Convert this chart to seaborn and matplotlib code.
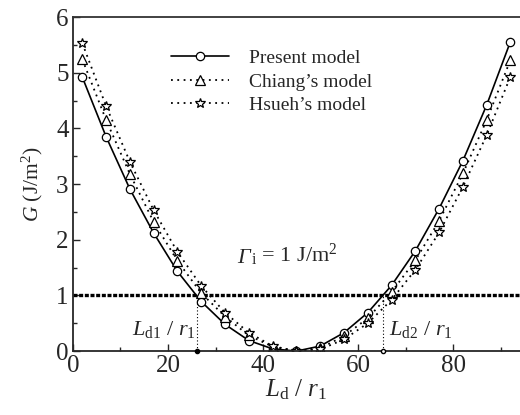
import matplotlib
matplotlib.use("Agg")
import matplotlib.pyplot as plt
import numpy as np
import pandas as pd
import seaborn as sns

# L_d / r_1 sample positions and G values (J/m^2)
ld_r1 = [2, 7, 12, 17, 22, 27, 32, 37, 42, 47, 52, 57, 62, 67, 72, 77, 82, 87, 92]
g_present = [4.92, 3.85, 2.91, 2.12, 1.43, 0.89, 0.48, 0.19, 0.04, 0.0,
             0.09, 0.33, 0.69, 1.18, 1.80, 2.56, 3.42, 4.42, 5.56]
g_chiang = [5.24, 4.15, 3.18, 2.32, 1.62, 1.04, 0.62, 0.28, 0.08, 0.0,
            0.05, 0.27, 0.59, 1.06, 1.63, 2.34, 3.19, 4.15, 5.23]
g_hsueh = [5.53, 4.40, 3.40, 2.53, 1.78, 1.17, 0.69, 0.33, 0.09, 0.0,
           0.03, 0.21, 0.50, 0.92, 1.46, 2.13, 2.95, 3.88, 4.93]
gamma_i = 1.0
ld1, ld2 = 26.1, 65.3

sns.set_style("ticks", {"xtick.direction": "in", "ytick.direction": "in"})
plt.rcParams['font.family'] = ['Liberation Serif', 'DejaVu Serif']
plt.rcParams['mathtext.fontset'] = 'custom'
plt.rcParams['mathtext.rm'] = 'Liberation Serif'
plt.rcParams['mathtext.it'] = 'Liberation Serif:italic'
plt.rcParams['mathtext.bf'] = 'Liberation Serif:bold'

fig = plt.figure(figsize=(5.2, 4.15), dpi=100)
ax = fig.add_axes([0.140, 0.154, 0.86, 0.805])

df = pd.DataFrame({'x': ld_r1, 'present': g_present,
                   'chiang': g_chiang, 'hsueh': g_hsueh})

mk = dict(markerfacecolor='white', markeredgecolor='black', markeredgewidth=0.9)
sns.lineplot(data=df, x='x', y='present', ax=ax, color='black', lw=1.2,
             marker='o', markersize=6, label='Present model', **mk)
sns.lineplot(data=df, x='x', y='chiang', ax=ax, color='black', lw=1.3,
             ls=(0, (1, 2.5)), marker='^', markersize=6.5, label="Chiang\u2019s model", **mk)
sns.lineplot(data=df, x='x', y='hsueh', ax=ax, color='black', lw=1.3,
             ls=(0, (1, 2.5)), marker='*', markersize=7.5, label="Hsueh\u2019s model", **mk)

ax.axhline(gamma_i, color='black', lw=2.4, ls=(0, (1.2, 0.5)), zorder=1)
ax.plot([ld1, ld1], [0, gamma_i], color='black', lw=0.8, ls=(0, (1, 2)))
ax.plot([ld2, ld2], [0, gamma_i], color='black', lw=0.8, ls=(0, (1, 2)))
ax.plot([ld1], [0], 'o', color='black', markersize=3, clip_on=False, zorder=5)
ax.plot([ld2], [0], 'o', mfc='white', mec='black', markersize=3, clip_on=False, zorder=5)

# italic Gamma, then the rest of the label right after it
g_txt = ax.text(34.5, 1.58, "\u0393", fontsize=16, style='italic')
ax.annotate(r"$_{\mathrm{i}}$ = 1 J/m$^2$", xy=(1, 0), xycoords=g_txt,
            xytext=(1, 0), textcoords='offset points', fontsize=16, va='bottom')
ax.text(12.5, 0.28, r"$L_{\mathrm{d1}}$ / $r_1$", fontsize=16)
ax.text(66.5, 0.28, r"$L_{\mathrm{d2}}$ / $r_1$", fontsize=16)

ax.set_xlim(0, 94)
ax.set_ylim(0, 6)
ax.set_xticks([0, 20, 40, 60, 80])
ax.set_xticks(np.arange(10, 94, 20), minor=True)
ax.set_yticks([0, 1, 2, 3, 4, 5, 6])
ax.set_yticks(np.arange(0.5, 6, 1), minor=True)
ax.tick_params(which='major', length=5, width=1, labelsize=18, direction='in', pad=3)
ax.tick_params(which='minor', length=3, width=1, direction='in')
ax.set_xlabel(r"$L_{\mathrm{d}}$ / $r_1$", fontsize=18, labelpad=0)
ax.set_ylabel(r"$G$ (J/m$^2$)", fontsize=15.5, labelpad=8)
for s in ['left', 'bottom']:
    ax.spines[s].set_linewidth(1.3)
ax.spines['top'].set_linewidth(1.3)
ax.spines['top'].set_color('#333333')
ax.spines['right'].set_visible(False)

ax.legend(loc='upper left', bbox_to_anchor=(0.18, 0.955), frameon=False,
          fontsize=14, handlelength=3.0, handletextpad=1.0, labelspacing=0.3)

fig.savefig('out.png', dpi=100)
